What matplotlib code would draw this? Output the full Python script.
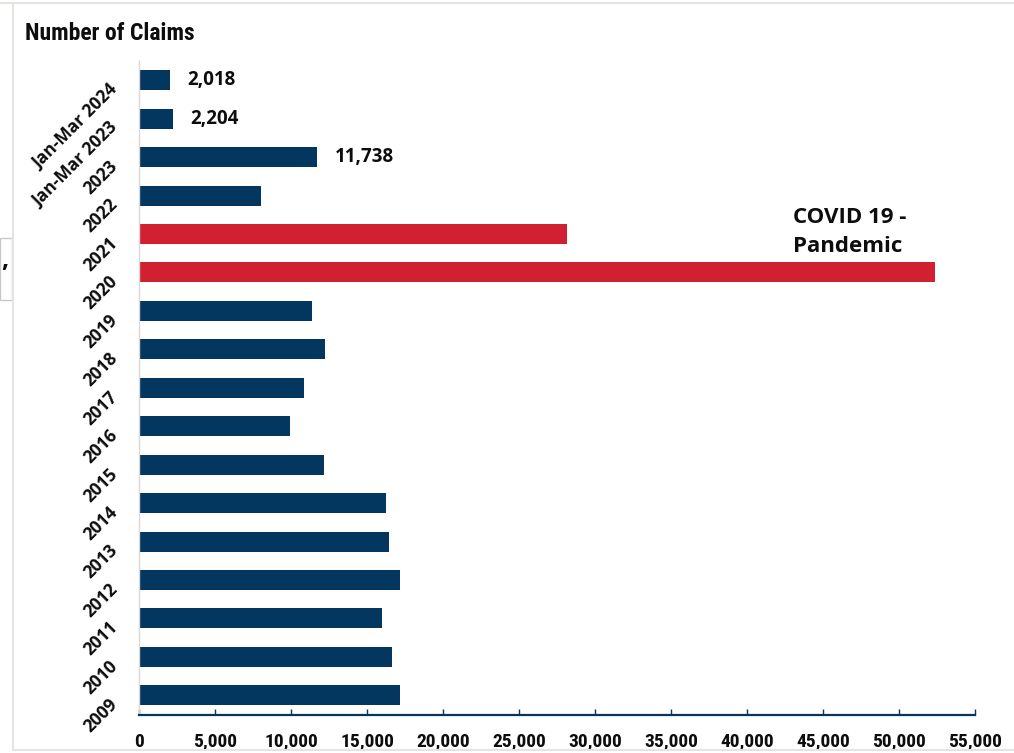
import matplotlib
matplotlib.use("Agg")
import matplotlib.pyplot as plt
from matplotlib import font_manager
from matplotlib.lines import Line2D
from matplotlib.patches import Rectangle
from matplotlib.ticker import FuncFormatter, MultipleLocator

# Claims per period (bottom to top)
categories = ["2009", "2010", "2011", "2012", "2013", "2014", "2015", "2016",
              "2017", "2018", "2019", "2020", "2021", "2022", "2023",
              "Jan-Mar 2023", "Jan-Mar 2024"]
claims = [17200, 16640, 16000, 17200, 16480, 16240, 12200, 9940,
          10880, 12260, 11410, 52400, 28130, 8030, 11738, 2204, 2018]
pandemic_years = ["2020", "2021"]
labelled = ["2023", "Jan-Mar 2023", "Jan-Mar 2024"]
x_max = 55000
x_step = 5000

NAVY = "#04375f"
RED = "#d02031"
INK = "#0d0d0d"


def pick_family(names, fallback):
    for name in names:
        try:
            font_manager.findfont(font_manager.FontProperties(family=name),
                                  fallback_to_default=False)
            return name
        except Exception:
            continue
    return fallback


MAIN = pick_family(["Open Sans", "Noto Sans"], "DejaVu Sans")
NARROW = pick_family(["Liberation Sans Narrow", "Roboto Condensed",
                      "Open Sans Condensed"], MAIN)

fig = plt.figure(figsize=(10.14, 7.53), dpi=100)
W, H = 1014, 753
ax = fig.add_axes([139 / W, 38.5 / H, 836 / W, 653.5 / H])

colors = [RED if c in pandemic_years else NAVY for c in categories]
ypos = list(range(len(categories)))
ax.barh(ypos, claims, height=0.52, color=colors, edgecolor="none")

ax.set_xlim(0, x_max)
ax.set_ylim(-0.5, len(categories) - 0.5)

# value labels on the most recent periods
for i, (cat, val) in enumerate(zip(categories, claims)):
    if cat in labelled:
        ax.annotate(f"{val:,}", xy=(val, i), xytext=(12.5, 0),
                    textcoords="offset points", va="center", ha="left",
                    fontsize=13.5, fontweight="bold", color=INK, family=MAIN)

# pandemic note beside the 2021 bar
i21 = categories.index("2021")
for txt, dy in (("COVID 19 -", 8), ("Pandemic", -13)):
    ax.annotate(txt, xy=(43000, i21), xytext=(0, dy),
                textcoords="offset points", va="baseline", ha="left",
                fontsize=16, fontweight="bold", color=INK, family=MAIN)

# axes styling
for side in ("top", "right"):
    ax.spines[side].set_visible(False)
ax.spines["left"].set_color("#d9d9d9")
ax.spines["left"].set_linewidth(1)
ax.spines["bottom"].set_color(NAVY)
ax.spines["bottom"].set_linewidth(1.6)

ax.xaxis.set_major_locator(MultipleLocator(x_step))
ax.xaxis.set_major_formatter(FuncFormatter(lambda v, p: f"{int(v):,}"))
ax.tick_params(axis="x", direction="in", length=4, width=1, color=NAVY,
               pad=13)
for lab in ax.get_xticklabels():
    lab.set_fontfamily(NARROW)
    lab.set_fontweight("bold")
    lab.set_fontsize(14)
    lab.set_color(INK)

ax.set_yticks(ypos)
ax.set_yticklabels(categories, rotation=45, ha="right", va="top",
                   fontsize=12.5, fontweight="bold", color=INK, family=MAIN)
ax.tick_params(axis="y", length=0, pad=13)

fig.text(25 / W, 1 - 34 / H, "Number of Claims", ha="left", va="center",
         fontsize=17, fontweight="bold", color=INK, family=NARROW)

# page frame around the chart
frame = "#e4e4e0"
fig.add_artist(Line2D([13 / W, 13 / W], [1 - 5 / H, 1 - 750 / H],
                      transform=fig.transFigure, color=frame, lw=1.5))
fig.add_artist(Line2D([13 / W, 1], [1 - 750 / H, 1 - 750 / H],
                      transform=fig.transFigure, color=frame, lw=1.5))
fig.add_artist(Line2D([0, 1], [1 - 3 / H, 1 - 3 / H],
                      transform=fig.transFigure, color=frame, lw=1.5))
fig.add_artist(Rectangle((0, 1 - 300 / H), 12 / W, 62 / H,
                         transform=fig.transFigure, facecolor="white",
                         edgecolor="#c8c8c8", lw=1))
fig.text(5 / W, 1 - 260 / H, ",", ha="center", va="center", fontsize=18,
         fontweight="bold", color=INK, family=MAIN)

fig.savefig("out.png", dpi=100)
